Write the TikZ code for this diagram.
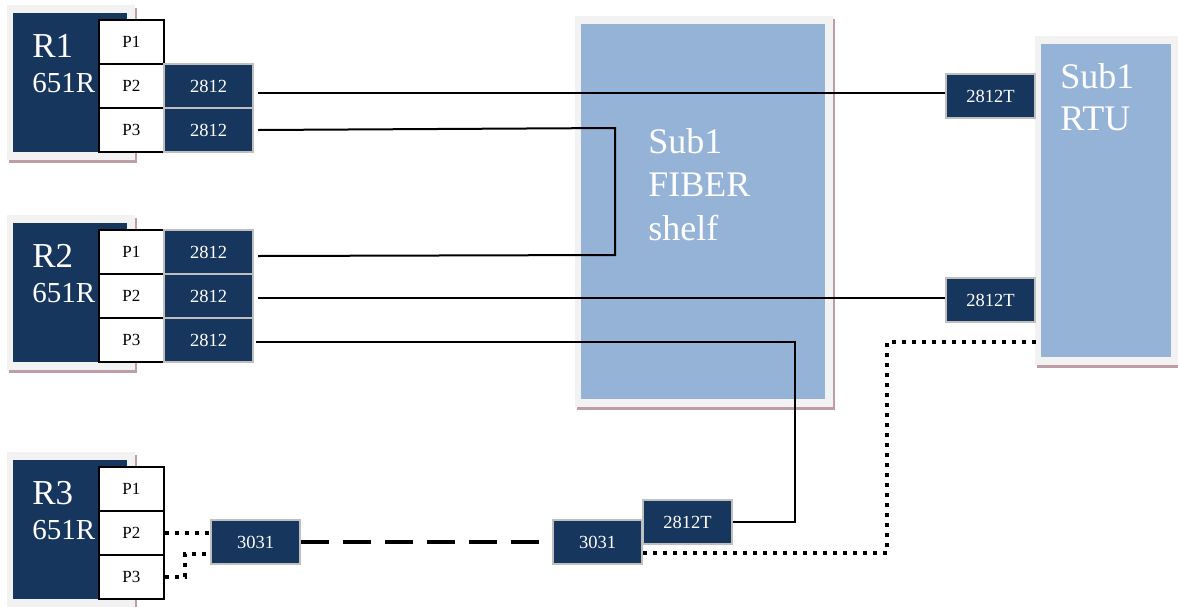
\documentclass[tikz,border=0pt]{standalone}
\usepackage{fontspec}
\setmainfont{Liberation Serif}
\usetikzlibrary{calc}
\definecolor{navy}{RGB}{23,54,93}
\definecolor{shelfblue}{RGB}{149,179,215}
\definecolor{framegray}{RGB}{242,242,242}
\definecolor{shadowpink}{RGB}{190,158,165}
\definecolor{edgegray}{RGB}{191,191,191}
\tikzset{
  port/.style={draw=black, line width=0.9pt, fill=white, minimum width=32.5pt, minimum height=22pt,
    inner sep=0pt, anchor=north west, font=\fontsize{8.5}{10}\selectfont},
  card/.style={draw=edgegray, line width=1pt, fill=navy, text=white, minimum width=44.5pt, minimum height=22pt,
    inner sep=0pt, anchor=north west, font=\fontsize{9.25}{11}\selectfont},
  rlabel/.style={text=white, inner sep=0pt, anchor=base west, font=\fontsize{17.5}{20}\selectfont},
  rtype/.style={text=white, inner sep=0pt, anchor=base west, font=\fontsize{14.5}{17}\selectfont},
  paneltext/.style={text=white, inner sep=0pt, anchor=base west, align=left},
  wire/.style={line width=1pt},
  dotwire/.style={line width=2pt, dash pattern=on 2pt off 3pt},
  dashwire/.style={line width=2.2pt, dash pattern=on 14pt off 7pt},
}
% name, x, y, w, h, colour of the inner box (pixel units)
\newcommand{\panel}[6]{
  \fill[shadowpink] (#2-4,#3-5) rectangle ++(#4+14,#5+16);
  \fill[framegray] (#2-6,#3-8) rectangle ++(#4+14,#5+16);
  \node[fill=#6, inner sep=0pt, minimum width=#4*0.5pt, minimum height=#5*0.5pt, anchor=north west] (#1) at (#2,#3) {};}
% name, top of the relay, label
\newcommand{\relay}[3]{
  \panel{#1}{13}{#2}{114}{139}{navy}
  \node[rlabel] (#1name) at (32,#2+44) {#3};
  \node[rtype] (#1type) at (32,#2+79) {651R};
  \node[port] (#1p1) at (98,#2+6) {P1};
  \node[port] (#1p2) at (98,#2+50) {P2};
  \node[port] (#1p3) at (98,#2+94) {P3};}
\begin{document}
\begin{tikzpicture}[x=0.5pt,y=-0.5pt]
\useasboundingbox (0,0) rectangle (1178,606);
% shelf and rtu
\panel{shelf}{581}{24}{244}{375}{shelfblue}
\node[paneltext, font=\fontsize{18}{21.75}\selectfont] (shelftext) at (648,240) {Sub1\\FIBER\\shelf};
\panel{rtu}{1041}{44}{130}{313}{shelfblue}
\node[paneltext, font=\fontsize{18}{21}\selectfont] (rtutext) at (1060,130) {Sub1\\RTU};
\node[card] (rtua) at (945,73) {2812T};
\node[card] (rtub) at (945,277) {2812T};
% relays
\relay{ra}{13}{R1}
\relay{rb}{223}{R2}
\relay{rc}{460}{R3}
% cards on the relays
\node[card] (rab2) at (163,63) {2812};
\node[card] (rab3) at (163,107) {2812};
\node[card] (rbb1) at (163,229) {2812};
\node[card] (rbb2) at (163,273) {2812};
\node[card] (rbb3) at (163,317) {2812};
% R3 link
\node[card] (rcc1) at (210,519) {3031};
\node[card] (rcc2) at (552,519) {3031};
\node[card] (rct) at (642,499) {2812T};
% bends
\coordinate (k1) at (615,128);
\coordinate (k2) at (615,255);
\coordinate (k3) at (795,430);
\coordinate (k4) at (185,565);
\coordinate (k5) at (887,342);
% fibres
\draw[wire] ($(rab2.east)+(4,7)$) -- ($(rtua.west)+(0,-3)$);
\draw[wire] ($(rab3.east)+(4,0)$) -- (k1) -- (k2) -- ($(rbb1.east)+(4,4)$);
\draw[wire] ($(rbb2.east)+(4,2)$) -- ($(rtub.west)+(0,-2)$);
\draw[wire] ($(rbb3.east)+(2,2)$) -| (k3) |- (rct.east);
\draw[dotwire] (rcp2.east) -- (rcp2.east -| rcc1.west);
\draw[dotwire] (rcp3.east) -| (k4) |- ($(rcc1.west)+(0,12)$);
\draw[dashwire] (rcc1.east) -- (rcc2.west);
\draw[dotwire] ($(rcc2.east)+(0,11)$) -| (k5) -- (k5 -| rtu.west);
\end{tikzpicture}
\end{document}
